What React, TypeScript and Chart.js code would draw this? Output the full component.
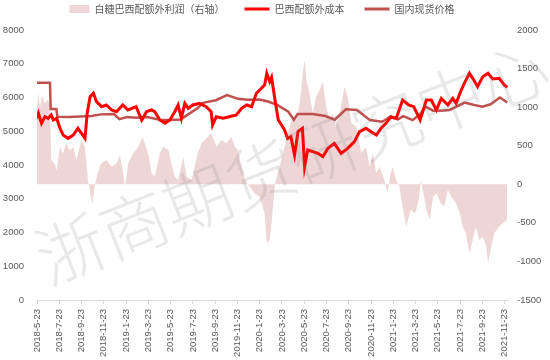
import React, { useEffect, useRef } from 'react';
import { Chart, registerables } from 'chart.js';

Chart.register(...registerables);

const tickLabels = [
  '2018-5-23', '2018-7-23', '2018-9-23', '2018-11-23',
  '2019-1-23', '2019-3-23', '2019-5-23', '2019-7-23', '2019-9-23', '2019-11-23',
  '2020-1-23', '2020-3-23', '2020-5-23', '2020-7-23', '2020-9-23', '2020-11-23',
  '2021-1-23', '2021-3-23', '2021-5-23', '2021-7-23', '2021-9-23', '2021-11-23',
];

const seriesNames = ['白糖巴西配额外利润（右轴）', '巴西配额外成本', '国内现货价格'];
const watermarkText = '浙商期货研究中心';

// 白糖巴西配额外利润（右轴）
const profitDates = [
  '2018-05-23', '2018-05-26', '2018-05-31', '2018-06-06', '2018-06-14', '2018-06-23', '2018-06-28', '2018-07-01',
  '2018-07-11', '2018-07-16', '2018-07-25', '2018-08-03', '2018-08-11', '2018-08-22', '2018-08-31', '2018-09-09',
  '2018-09-23', '2018-10-02', '2018-10-10', '2018-10-18', '2018-10-23', '2018-10-28', '2018-11-06', '2018-11-16',
  '2018-11-30', '2018-12-14', '2018-12-28', '2019-01-06', '2019-01-15', '2019-01-20', '2019-01-29', '2019-02-12',
  '2019-02-26', '2019-03-07', '2019-03-16', '2019-03-25', '2019-04-01', '2019-04-10', '2019-04-24', '2019-05-03',
  '2019-05-17', '2019-05-25', '2019-06-04', '2019-06-13', '2019-06-27', '2019-07-06', '2019-07-19', '2019-08-06',
  '2019-08-16', '2019-09-03', '2019-09-12', '2019-09-27', '2019-10-10', '2019-10-23', '2019-11-06', '2019-11-16',
  '2019-11-24', '2019-12-04', '2019-12-13', '2019-12-26', '2020-01-09', '2020-01-23', '2020-02-06', '2020-02-12',
  '2020-02-20', '2020-02-25', '2020-03-04', '2020-03-12', '2020-03-26', '2020-04-08', '2020-04-22', '2020-05-01',
  '2020-05-11', '2020-05-19', '2020-05-24', '2020-05-29', '2020-06-07', '2020-06-16', '2020-06-25', '2020-07-04',
  '2020-07-13', '2020-07-22', '2020-07-31', '2020-08-09', '2020-08-18', '2020-09-02', '2020-09-11', '2020-09-20',
  '2020-09-30', '2020-10-13', '2020-10-27', '2020-11-09', '2020-11-19', '2020-11-28', '2020-12-07', '2020-12-16',
  '2020-12-29', '2021-01-07', '2021-01-16', '2021-01-21', '2021-01-31', '2021-02-09', '2021-02-18', '2021-02-28',
  '2021-03-09', '2021-03-22', '2021-04-01', '2021-04-07', '2021-04-14', '2021-04-22', '2021-05-01', '2021-05-10',
  '2021-05-19', '2021-06-01', '2021-06-10', '2021-06-20', '2021-06-29', '2021-07-12', '2021-07-22', '2021-07-30',
  '2021-08-08', '2021-08-18', '2021-08-27', '2021-09-05', '2021-09-14', '2021-09-24', '2021-10-03', '2021-10-08',
  '2021-10-17', '2021-10-25', '2021-11-08', '2021-11-17', '2021-11-30',
];
const profitValues = [
  1000, 1180, 1000, 1150, 1050, 1100, 1000, 315,
  260, 185, 487, 400, 530, 440, 480, 315,
  574, 487, 56, -160, -246, -31, 143, 272,
  315, 228, 272, 380, 143, -31, 272, 401,
  487, 617, 487, 359, 143, 100, 401, 487,
  444, 272, 99, 56, 358, 99, 56, 401,
  531, 617, 661, 487, 574, 531, 617, 487,
  444, 228, 56, -31, -117, -160, -376, -765,
  -720, -500, 13, 143, 401, 661, 876, 833,
  1050, 1438, 1611, 1352, 1179, 920, 1136, 1222,
  1330, 1006, 833, 920, 747, 1006, 1265, 1136,
  790, 747, 401, 487, 228, 401, 143, 228,
  56, -117, 143, 228, 56, -31, -290, -550,
  -333, -376, -203, 56, -117, -333, -463, -160,
  -117, -246, -290, -74, -160, -246, -376, -549,
  -635, -894, -722, -549, -722, -678, -808, -1024,
  -808, -635, -549, -506, -463,
];

// 巴西配额外成本
const costDates = [
  '2018-05-23', '2018-05-27', '2018-06-05', '2018-06-14', '2018-06-23', '2018-07-01', '2018-07-07', '2018-07-16',
  '2018-07-25', '2018-08-03', '2018-08-17', '2018-08-31', '2018-09-13', '2018-09-23', '2018-10-02', '2018-10-08',
  '2018-10-16', '2018-10-25', '2018-11-03', '2018-11-17', '2018-11-30', '2018-12-14', '2018-12-27', '2019-01-14',
  '2019-01-28', '2019-02-20', '2019-03-05', '2019-03-18', '2019-04-01', '2019-04-10', '2019-04-24', '2019-05-08',
  '2019-05-21', '2019-06-04', '2019-06-13', '2019-06-22', '2019-07-01', '2019-07-10', '2019-07-23', '2019-08-11',
  '2019-08-29', '2019-09-12', '2019-09-16', '2019-09-26', '2019-10-14', '2019-11-01', '2019-11-20', '2019-12-04',
  '2019-12-18', '2020-01-01', '2020-01-14', '2020-01-23', '2020-02-06', '2020-02-12', '2020-02-20', '2020-02-25',
  '2020-03-04', '2020-03-13', '2020-03-22', '2020-03-30', '2020-04-08', '2020-04-17', '2020-04-27', '2020-05-06',
  '2020-05-18', '2020-05-24', '2020-06-02', '2020-06-16', '2020-06-30', '2020-07-13', '2020-07-27', '2020-08-14',
  '2020-09-02', '2020-09-20', '2020-10-08', '2020-10-22', '2020-11-09', '2020-11-23', '2020-12-07', '2020-12-20',
  '2021-01-03', '2021-01-17', '2021-01-31', '2021-02-18', '2021-03-04', '2021-03-18', '2021-04-05', '2021-04-22',
  '2021-05-05', '2021-05-19', '2021-06-02', '2021-06-20', '2021-07-03', '2021-07-12', '2021-07-26', '2021-08-04',
  '2021-08-18', '2021-08-27', '2021-09-10', '2021-09-24', '2021-10-08', '2021-10-21', '2021-11-08', '2021-11-22',
  '2021-11-30',
];
const costValues = [
  5380, 5530, 5235, 5430, 5380, 5480, 5333, 5380,
  5087, 4889, 4790, 4889, 5087, 4938, 4790, 5531,
  6024, 6123, 5876, 5728, 5778, 5630, 5580, 5778,
  5630, 5728, 5333, 5580, 5630, 5580, 5333, 5235,
  5333, 5580, 5778, 5383, 5827, 5680, 5778, 5827,
  5728, 5580, 5185, 5431, 5383, 5431, 5481, 5680,
  5778, 5728, 6123, 6222, 6370, 6716, 6469, 6600,
  5926, 5333, 5185, 5037, 4790, 4840, 4296, 4988,
  5087, 3950, 4444, 4395, 4346, 4247, 4494, 4642,
  4346, 4494, 4691, 4988, 5087, 4988, 4889, 5087,
  5235, 5431, 5383, 5926, 5778, 5728, 5333, 5926,
  5926, 5630, 5975, 5778, 5975, 5827, 6222, 6420,
  6716, 6568, 6321, 6617, 6716, 6548, 6568, 6370,
  6300,
];

// 国内现货价格
const spotDates = [
  '2018-05-23', '2018-06-28', '2018-06-30', '2018-07-15', '2018-07-18', '2018-08-20', '2018-09-20', '2018-10-20',
  '2018-11-15', '2018-12-20', '2019-01-05', '2019-01-25', '2019-02-20', '2019-03-20', '2019-04-23', '2019-05-20',
  '2019-06-20', '2019-07-10', '2019-08-05', '2019-08-20', '2019-09-25', '2019-10-25', '2019-11-25', '2019-12-20',
  '2020-01-23', '2020-02-15', '2020-03-10', '2020-04-10', '2020-04-25', '2020-05-05', '2020-06-15', '2020-07-20',
  '2020-08-15', '2020-09-15', '2020-10-15', '2020-11-20', '2020-12-23', '2021-01-15', '2021-02-05', '2021-02-20',
  '2021-03-15', '2021-04-05', '2021-04-20', '2021-05-10', '2021-06-01', '2021-06-25', '2021-08-05', '2021-09-01',
  '2021-09-23', '2021-10-15', '2021-11-10', '2021-11-30',
];
const spotValues = [
  6440, 6440, 5660, 5660, 5430, 5420, 5440, 5450,
  5500, 5510, 5360, 5420, 5400, 5420, 5340, 5330,
  5350, 5500, 5680, 5840, 5920, 6070, 5960, 5930,
  5940, 5880, 5780, 5580, 5340, 5510, 5510, 5450,
  5340, 5650, 5630, 5330, 5280, 5430, 5350, 5450,
  5330, 5510, 5730, 5610, 5610, 5630, 5850, 5780,
  5730, 5800, 6000, 5850,
];

function monthOffset(d: string): number {
  const [y, m, day] = d.split('-').map(Number);
  return (y - 2018) * 12 + (m - 5) + (day - 23) / 30.4;
}

function toPoints(dates: string[], values: number[]) {
  return dates.map((d, i) => ({ x: monthOffset(d), y: values[i] }));
}

const TEXT_COLOR = '#595959';
const TICK_FONT = { family: '"Liberation Sans", Arial, sans-serif', size: 9.5 };

const legendPlugin = {
  id: 'customLegend',
  afterDraw(chart: any) {
    const ctx = chart.ctx as CanvasRenderingContext2D;
    const ds = chart.data.datasets;
    ctx.save();
    ctx.font = '10px "Noto Sans CJK SC", sans-serif';
    ctx.textBaseline = 'middle';
    ctx.textAlign = 'left';
    const symW = [20, 25, 25];
    const gapText = 5;
    const gapItem = 20;
    const widths = ds.map((d: any, i: number) => symW[i] + gapText + ctx.measureText(d.label).width);
    const total = widths.reduce((a: number, b: number) => a + b, 0) + gapItem * (ds.length - 1);
    let x = 262 - total / 2;
    const cy = 9;
    ds.forEach((d: any, i: number) => {
      if (i === 0) {
        ctx.fillStyle = d.backgroundColor;
        ctx.fillRect(x, cy - 4, symW[i], 8);
      } else {
        ctx.strokeStyle = d.borderColor;
        ctx.lineWidth = 3;
        ctx.beginPath();
        ctx.moveTo(x, cy);
        ctx.lineTo(x + symW[i], cy);
        ctx.stroke();
      }
      ctx.fillStyle = TEXT_COLOR;
      ctx.fillText(d.label, x + symW[i] + gapText, cy + 0.5);
      x += widths[i] + gapItem;
    });
    ctx.restore();
  },
};

const watermarkPlugin = {
  id: 'watermark',
  afterDatasetsDraw(chart: any) {
    const ctx = chart.ctx as CanvasRenderingContext2D;
    ctx.save();
    ctx.translate(292, 162);
    ctx.rotate((-21.5 * Math.PI) / 180);
    ctx.font = '300 68px "Noto Sans CJK SC", sans-serif';
    ctx.fillStyle = 'rgba(128,128,128,0.18)';
    ctx.textAlign = 'center';
    ctx.textBaseline = 'middle';
    ctx.fillText(watermarkText, 0, 0);
    ctx.restore();
  },
};

const plainNumber = (v: any) => String(v);

export default function App() {
  const ref = useRef<HTMLCanvasElement>(null);

  useEffect(() => {
    if (!ref.current) return;
    const chart = new Chart(ref.current, {
      type: 'line',
      data: {
        datasets: [
          {
            label: seriesNames[0],
            data: toPoints(profitDates, profitValues),
            yAxisID: 'y1',
            borderWidth: 0,
            borderColor: 'rgba(0,0,0,0)',
            backgroundColor: '#EED6D6',
            fill: 'origin',
            pointRadius: 0,
            order: 3,
          },
          {
            label: seriesNames[1],
            data: toPoints(costDates, costValues),
            yAxisID: 'y',
            borderColor: '#FF0000',
            backgroundColor: '#FF0000',
            borderWidth: 3,
            pointRadius: 0,
            fill: false,
            order: 1,
          },
          {
            label: seriesNames[2],
            data: toPoints(spotDates, spotValues),
            yAxisID: 'y',
            borderColor: '#C0504D',
            backgroundColor: '#C0504D',
            borderWidth: 2.5,
            pointRadius: 0,
            fill: false,
            order: 2,
          },
        ],
      },
      options: {
        responsive: false,
        animation: false,
        layout: { padding: { top: 30 } },
        plugins: {
          legend: { display: false },
          tooltip: { enabled: false },
        },
        scales: {
          x: {
            type: 'linear',
            min: 0,
            max: 42.3,
            afterBuildTicks: (s: any) => {
              s.ticks = tickLabels.map((_, i) => ({ value: i * 2 }));
            },
            afterFit: (s: any) => {
              s.height = 60;
            },
            ticks: {
              autoSkip: false,
              minRotation: 90,
              maxRotation: 90,
              padding: 5,
              color: TEXT_COLOR,
              font: TICK_FONT,
              callback: (v: any) => tickLabels[Math.round(Number(v) / 2)] ?? '',
            },
            grid: { drawOnChartArea: false, drawTicks: true, tickLength: 4, color: '#D9D9D9' },
            border: { display: true, color: '#D9D9D9' },
          },
          y: {
            position: 'left',
            min: 0,
            max: 8000,
            afterFit: (s: any) => {
              s.width = 37;
            },
            ticks: { stepSize: 1000, padding: 13, color: TEXT_COLOR, font: TICK_FONT, callback: plainNumber },
            grid: { display: false, drawTicks: false },
            border: { display: false },
          },
          y1: {
            position: 'right',
            min: -1500,
            max: 2000,
            afterFit: (s: any) => {
              s.width = 42;
            },
            ticks: { stepSize: 500, padding: 9, color: TEXT_COLOR, font: TICK_FONT, callback: plainNumber },
            grid: { display: false, drawTicks: false },
            border: { display: false },
          },
        },
      } as any,
      plugins: [legendPlugin, watermarkPlugin],
    });
    return () => chart.destroy();
  }, []);

  return (
    <canvas
      ref={ref}
      width={550}
      height={360}
      style={{ position: 'absolute', left: 0, top: 0, width: 550, height: 360, display: 'block' }}
    />
  );
}
